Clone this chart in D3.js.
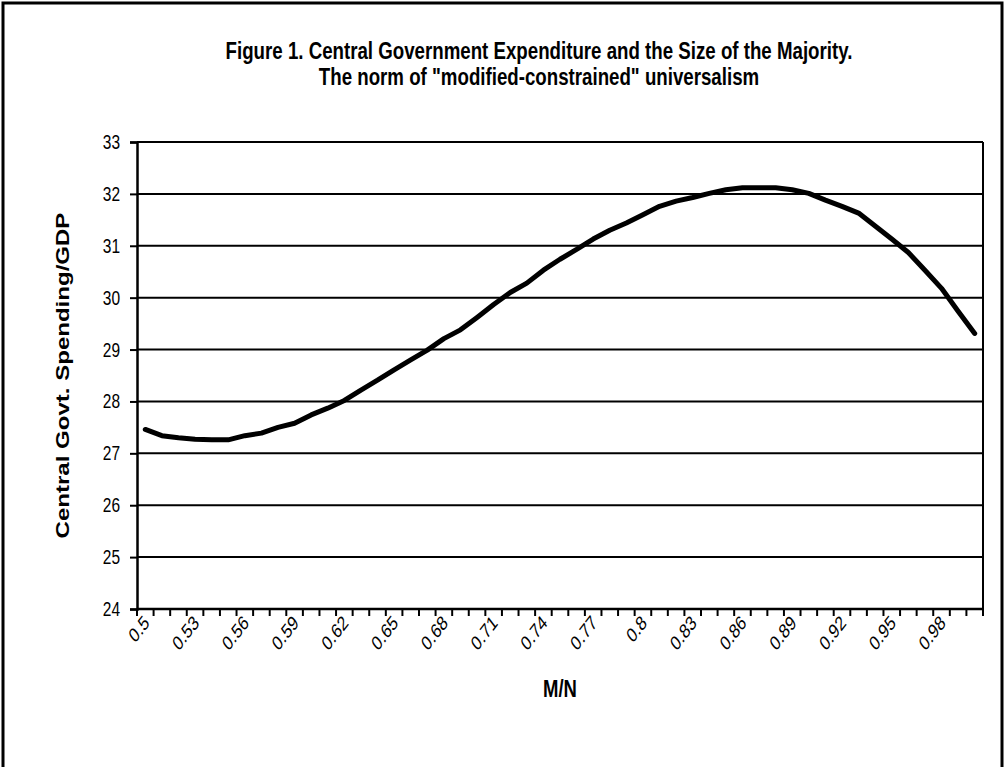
<!DOCTYPE html>
<html>
<head>
<meta charset="utf-8">
<script src="https://cdn.jsdelivr.net/npm/d3@7"></script>
<style>
  body { margin: 0; background: #fff; }
  text { font-family: "Liberation Sans", Arial, sans-serif; fill: #000; }
</style>
</head>
<body>
<svg id="chart" width="1005" height="767"></svg>
<script>
// M/N categories, 0.50 to 1.00
const categories = [0.5, 0.51, 0.52, 0.53, 0.54, 0.55, 0.56, 0.57, 0.58, 0.59,
  0.6, 0.61, 0.62, 0.63, 0.64, 0.65, 0.66, 0.67, 0.68, 0.69,
  0.7, 0.71, 0.72, 0.73, 0.74, 0.75, 0.76, 0.77, 0.78, 0.79,
  0.8, 0.81, 0.82, 0.83, 0.84, 0.85, 0.86, 0.87, 0.88, 0.89,
  0.9, 0.91, 0.92, 0.93, 0.94, 0.95, 0.96, 0.97, 0.98, 0.99, 1];

// central govt spending / GDP
const spending = [27.46, 27.34, 27.3, 27.27, 27.26, 27.26, 27.34, 27.39, 27.5, 27.58,
  27.74, 27.87, 28.02, 28.22, 28.41, 28.61, 28.8, 28.99, 29.21, 29.38,
  29.62, 29.87, 30.1, 30.28, 30.53, 30.74, 30.93, 31.13, 31.3, 31.44,
  31.6, 31.76, 31.86, 31.93, 32.01, 32.08, 32.12, 32.12, 32.12, 32.08,
  32.01, 31.88, 31.76, 31.63, 31.38, 31.13, 30.87, 30.53, 30.18, 29.74,
  29.31];

const yTicks = [24, 25, 26, 27, 28, 29, 30, 31, 32, 33];
const titleLines = ["Figure 1. Central Government Expenditure and the Size of the Majority.",
  "The norm of \"modified-constrained\" universalism"];

const margin = {top: 142, right: 22, bottom: 158, left: 137};
const width = 1005 - margin.left - margin.right;
const height = 767 - margin.top - margin.bottom;
// the original picture is stretched vertically, so text is too
const stretch = "scale(1,1.3)";

const svg = d3.select("#chart");

// outer chart border
svg.append("rect")
    .attr("x", 3)
    .attr("y", 3)
    .attr("width", 999)
    .attr("height", 780)
    .attr("fill", "none")
    .attr("stroke", "#000")
    .attr("stroke-width", 3);

const g = svg.append("g")
    .attr("transform", "translate(" + margin.left + "," + margin.top + ")");

const x = d3.scaleBand()
    .domain(categories)
    .range([0, width]);

const y = d3.scaleLinear()
    .domain([24, 33])
    .range([height, 0]);

// horizontal gridlines
g.selectAll("line.grid")
    .data(yTicks)
    .enter()
    .append("line")
    .attr("class", "grid")
    .attr("x1", 0)
    .attr("x2", width)
    .attr("y1", d => y(d))
    .attr("y2", d => y(d))
    .attr("stroke", "#000")
    .attr("stroke-width", 2);

// right edge of the plot area
g.append("line")
    .attr("x1", width)
    .attr("x2", width)
    .attr("y1", 0)
    .attr("y2", height)
    .attr("stroke", "#000")
    .attr("stroke-width", 2);

// y axis
const yAxis = g.append("g")
    .call(d3.axisLeft(y).tickValues(yTicks).tickSize(7).tickPadding(10));
yAxis.select(".domain").attr("stroke-width", 2.5);
yAxis.selectAll(".tick line").attr("stroke-width", 2);
yAxis.selectAll("text")
    .attr("transform", stretch)
    .style("font-size", "15.5px")
    .style("font-family", "Liberation Sans, Arial, sans-serif");

// x axis: ticks sit between categories, labels on every third one
const bounds = categories.map(c => x(c)).concat([width]);
const xb = g.append("g").attr("transform", "translate(0," + height + ")");
xb.append("line")
    .attr("x1", 0)
    .attr("x2", width)
    .attr("stroke", "#000")
    .attr("stroke-width", 2.5);
xb.selectAll("line.tk")
    .data(bounds)
    .enter()
    .append("line")
    .attr("class", "tk")
    .attr("x1", d => d)
    .attr("x2", d => d)
    .attr("y1", 0)
    .attr("y2", 7)
    .attr("stroke", "#000")
    .attr("stroke-width", 2);

xb.selectAll("text.lbl")
    .data(categories.filter((c, i) => i % 3 === 0))
    .enter()
    .append("text")
    .attr("class", "lbl")
    .attr("text-anchor", "end")
    .attr("transform", d => "translate(" + (x(d) + x.bandwidth() / 2 + 5) + ",15) " + stretch + " rotate(-45)")
    .style("font-size", "15.5px")
    .text(d => String(d));

// data line
const line = d3.line()
    .x((d, i) => x(categories[i]) + x.bandwidth() / 2)
    .y(d => y(d));

g.append("path")
    .datum(spending)
    .attr("d", line)
    .attr("fill", "none")
    .attr("stroke", "#000")
    .attr("stroke-width", 5)
    .attr("stroke-linejoin", "round")
    .attr("stroke-linecap", "round");

// titles
svg.selectAll("text.title")
    .data(titleLines)
    .enter()
    .append("text")
    .attr("class", "title")
    .attr("transform", (d, i) => "translate(539," + (59 + i * 26) + ") " + stretch)
    .attr("text-anchor", "middle")
    .style("font-size", "18.7px")
    .style("font-weight", "bold")
    .text(d => d);

svg.append("text")
    .attr("transform", "translate(69," + (margin.top + height / 2) + ") " + stretch + " rotate(-90)")
    .attr("text-anchor", "middle")
    .style("font-size", "18.5px")
    .style("font-weight", "bold")
    .text("Central Govt. Spending/GDP");

svg.append("text")
    .attr("transform", "translate(560,697) " + stretch)
    .attr("text-anchor", "middle")
    .style("font-size", "18.5px")
    .style("font-weight", "bold")
    .text("M/N");
</script>
</body>
</html>
